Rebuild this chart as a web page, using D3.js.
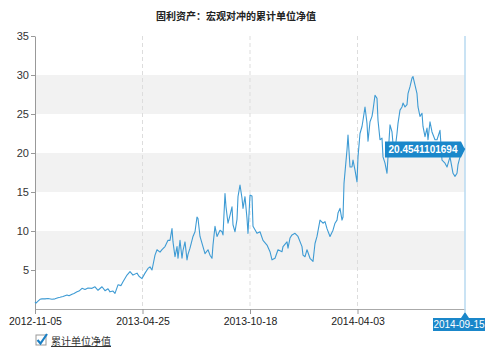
<!DOCTYPE html>
<html>
<head>
<meta charset="utf-8">
<script src="https://cdn.jsdelivr.net/npm/d3@7"></script>
<style>
  body { margin: 0; background: #fff; }
  svg { font-family: "Liberation Sans", Arial, sans-serif; }
</style>
</head>
<body>
<div id="chart"></div>
<script>
// observation index (trading-day position along the axis) and cumulative NAV
const obsIdx = [0, 1, 3, 5, 7, 10, 13, 17, 20, 23, 25, 28, 32, 34, 37, 39, 42, 44, 47, 50, 53, 57, 60, 63, 67, 70,
  73, 75, 78, 80, 83, 86, 88, 92, 95, 98, 102, 104, 107, 110, 113, 115, 117, 120, 122, 122, 125, 127, 130, 133,
  135, 137, 138, 140, 142, 143, 145, 147, 148, 150, 152, 153, 155, 158, 160, 162, 163, 165, 170, 173, 175, 177,
  178, 180, 182, 185, 187, 188, 190, 191, 193, 195, 197, 198, 200, 202, 203, 205, 207, 208, 210, 212, 213, 215,
  217, 218, 222, 225, 228, 232, 235, 237, 240, 243, 247, 248, 252, 253, 255, 257, 260, 263, 267, 268, 270, 272,
  275, 278, 280, 282, 285, 288, 290, 292, 295, 298, 300, 302, 303, 305, 307, 308, 309, 312, 313, 315, 317, 318,
  320, 322, 323, 325, 327, 328, 330, 332, 333, 335, 337, 338, 340, 342, 343, 345, 347, 348, 350, 352, 353, 355,
  357, 358, 360, 362, 363, 365, 367, 368, 370, 372, 373, 375, 377, 378, 380, 382, 383, 385, 387, 388, 390, 392,
  393, 395, 397, 400, 402, 403, 405, 407, 410, 412, 415, 418, 420, 422, 423, 425, 427, 430];
const navValues = [0.9, 0.75, 1.0, 1.24, 1.3, 1.3, 1.35, 1.25, 1.3, 1.45, 1.5, 1.6, 1.8, 1.7, 1.9, 2.0, 2.2, 2.3,
  2.65, 2.5, 2.7, 2.65, 2.85, 2.4, 2.85, 2.35, 2.6, 2.2, 2.3, 2.0, 3.1, 3.0, 3.5, 4.35, 4.8, 4.35, 4.6, 4.2, 3.9,
  4.6, 5.2, 5.4, 5.0, 6.9, 7.6, 7.6, 7.3, 7.6, 8.0, 8.8, 8.8, 10.3, 8.6, 6.7, 8.0, 6.5, 8.8, 6.5, 7.5, 8.6, 6.3,
  7.0, 7.8, 9.3, 9.9, 11.8, 11.6, 9.3, 7.1, 7.6, 6.9, 6.5, 8.2, 10.6, 9.3, 10.1, 9.9, 9.5, 14.8, 13.1, 11.0, 12.0,
  13.1, 10.8, 9.9, 11.5, 14.4, 15.9, 14.2, 12.9, 14.4, 11.6, 9.7, 14.6, 14.5, 10.6, 9.7, 9.9, 8.8, 8.2, 7.35, 6.3,
  6.5, 7.6, 7.35, 8.0, 8.6, 7.8, 9.1, 9.5, 9.7, 9.3, 8.0, 6.9, 6.7, 7.6, 6.5, 6.1, 8.4, 9.3, 11.4, 11.0, 11.2,
  10.3, 9.3, 10.1, 11.0, 11.4, 12.3, 12.9, 11.4, 11.8, 16.1, 20.4, 22.3, 18.2, 18.2, 19.1, 17.8, 16.3, 19.5, 22.5,
  23.4, 24.2, 25.9, 23.8, 21.5, 24.0, 24.7, 25.5, 27.4, 27.0, 24.2, 21.7, 21.9, 19.5, 18.7, 17.4, 19.5, 23.6, 22.7,
  21.2, 20.4, 22.5, 23.8, 25.5, 25.9, 26.4, 25.9, 26.2, 27.6, 28.5, 29.6, 29.8, 28.7, 27.6, 25.9, 24.7, 25.1, 23.4,
  22.1, 23.2, 21.7, 24.0, 22.7, 21.7, 21.7, 22.1, 22.9, 19.1, 18.7, 18.2, 19.5, 17.4, 17.0, 17.4, 18.5, 19.5, 20.4,
  20.6, 20.6, 20.4541101694];
const xTickLabels = ['2012-11-05', '2013-04-25', '2013-10-18', '2014-04-03', '2014-09-15'];
const yTicks = [5, 10, 15, 20, 25, 30, 35];
const bandRanges = [[25, 30], [15, 20], [5, 10]];
const lastIdx = 430;
const titleText = '固利资产：宏观对冲的累计单位净值';
const seriesName = '累计单位净值';

const W = 500, H = 351;
const margin = { top: 36, right: 35, bottom: 42, left: 35 };
const w = W - margin.left - margin.right;
const h = H - margin.top - margin.bottom;

const svg = d3.select('#chart').append('svg')
  .attr('width', W)
  .attr('height', H);

svg.append('text')
  .attr('x', 236)
  .attr('y', 20)
  .attr('text-anchor', 'middle')
  .style('font-family', '"Noto Sans CJK SC", sans-serif')
  .style('font-size', '10px')
  .style('font-weight', 'bold')
  .attr('fill', '#222')
  .text(titleText);

const g = svg.append('g').attr('transform', `translate(${margin.left},${margin.top})`);

const x = d3.scaleLinear().domain([0, lastIdx]).range([0, w]);
const y = d3.scaleLinear().domain([0, 35]).range([h, 0]);

// alternating bands
g.selectAll('.band')
  .data(bandRanges)
  .enter().append('rect')
  .attr('x', 0)
  .attr('width', w)
  .attr('y', d => y(d[1]))
  .attr('height', d => y(d[0]) - y(d[1]))
  .attr('fill', '#f2f2f2');

const tickIdx = xTickLabels.map((d, i) => i * lastIdx / (xTickLabels.length - 1));

// dashed vertical grid
g.selectAll('.vgrid')
  .data(tickIdx.slice(1, -1))
  .enter().append('line')
  .attr('x1', d => x(d)).attr('x2', d => x(d))
  .attr('y1', 0).attr('y2', h)
  .attr('stroke', '#ddd')
  .attr('stroke-dasharray', '4,3');

// y axis
const yAxis = g.append('g')
  .call(d3.axisLeft(y).tickValues(yTicks).tickSize(4).tickSizeOuter(0));
yAxis.select('.domain').attr('stroke', '#999');
yAxis.selectAll('.tick line').attr('stroke', '#999');
yAxis.selectAll('.tick text')
  .attr('fill', '#333')
  .style('font-size', '11px')
  .attr('x', -6);

// x axis
const xAxis = g.append('g')
  .attr('transform', `translate(0,${h})`)
  .call(d3.axisBottom(x).tickValues(tickIdx.slice(0, -1))
    .tickFormat((d, i) => xTickLabels[i]).tickSize(5).tickSizeOuter(0));
xAxis.select('.domain').attr('stroke', '#aaa');
xAxis.selectAll('.tick line').attr('stroke', '#999');
xAxis.selectAll('.tick text')
  .attr('fill', '#222')
  .attr('y', 9)
  .style('font-size', '10.5px');

// crosshair at last point
g.append('line')
  .attr('x1', x(lastIdx)).attr('x2', x(lastIdx))
  .attr('y1', 0).attr('y2', h + 3)
  .attr('stroke', '#b9daf0')
  .attr('stroke-width', 1.5);

// line
const line = d3.line()
  .x((d, i) => x(obsIdx[i]))
  .y(d => y(d));

g.append('path')
  .datum(navValues)
  .attr('fill', 'none')
  .attr('stroke', '#3e9bd4')
  .attr('stroke-width', 1.1)
  .attr('stroke-linejoin', 'round')
  .attr('d', line);

// value tooltip
const lastVal = navValues[navValues.length - 1];
const px = x(lastIdx), py = y(lastVal);
g.append('path')
  .attr('d', `M${px - 80},${py - 8} L${px - 4},${py - 8} L${px},${py} L${px - 4},${py + 8} L${px - 80},${py + 8} Z`)
  .attr('fill', '#1a87ca');
g.append('text')
  .attr('x', px - 42)
  .attr('y', py + 4)
  .attr('text-anchor', 'middle')
  .attr('fill', '#fff')
  .style('font-size', '10px')
  .style('font-weight', 'bold')
  .text(lastVal.toString());

// date label on x axis
g.append('path')
  .attr('d', `M${px - 32},${h + 9} L${px - 4},${h + 9} L${px},${h + 3} L${px + 4},${h + 9} L${px + 20},${h + 9} L${px + 20},${h + 22} L${px - 32},${h + 22} Z`)
  .attr('fill', '#1a87ca');
g.append('text')
  .attr('x', px - 6)
  .attr('y', h + 19)
  .attr('text-anchor', 'middle')
  .attr('fill', '#fff')
  .style('font-size', '10px')
  .text(xTickLabels[xTickLabels.length - 1]);

// legend
const legend = svg.append('g').attr('transform', 'translate(36,335)');
legend.append('rect')
  .attr('width', 10).attr('height', 10)
  .attr('fill', '#fff')
  .attr('stroke', '#999');
legend.append('path')
  .attr('d', 'M1.5,5 L4.5,8.5 L11,-1')
  .attr('fill', 'none')
  .attr('stroke', '#1a7fc4')
  .attr('stroke-width', 2.2);
legend.append('text')
  .attr('x', 15)
  .attr('y', 10)
  .style('font-family', '"Noto Sans CJK SC", sans-serif')
  .style('font-size', '10px')
  .attr('fill', '#333')
  .attr('text-decoration', 'underline')
  .text(seriesName);
</script>
</body>
</html>
